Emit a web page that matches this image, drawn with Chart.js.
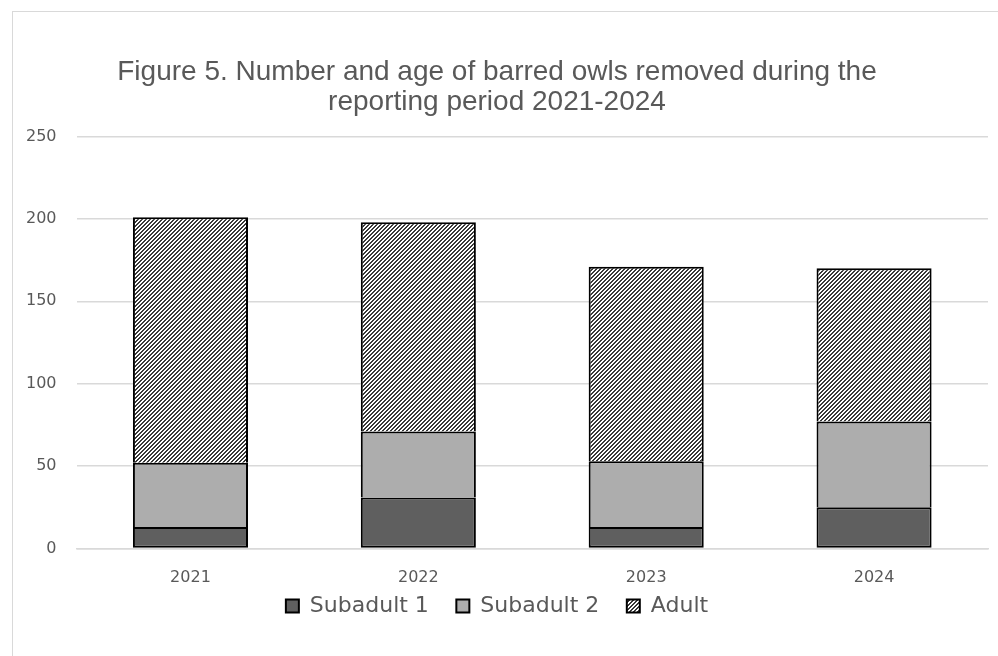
<!DOCTYPE html>
<html>
<head>
<meta charset="utf-8">
<title>Barred owls removed 2021-2024</title>
<script src="https://cdn.jsdelivr.net/npm/chart.js@4/dist/chart.umd.min.js"></script>
<style>
    html, body { margin: 0; padding: 0; background: #ffffff; }
    #wrap { position: relative; width: 998px; height: 656px; overflow: hidden; }
    #frame { position: absolute; left: 12px; top: 11px; width: 1100px; height: 800px; border: 1px solid #d9d9d9; }
    canvas { position: absolute; left: 0; top: 0; }
</style>
</head>
<body>
<div id="wrap">
    <div id="frame"></div>
    <canvas id="owl-chart" width="998" height="656"></canvas>
</div>
<script>
/* -------- DATA START -------- */
const years = ["2021", "2022", "2023", "2024"];
const subadult1 = [13, 31, 13, 25];
const subadult2 = [39, 40, 40, 52];
const adult = [149, 127, 118, 93];
const titleLines = ["Figure 5. Number and age of barred owls removed during the", "reporting period 2021-2024"];
/* -------- DATA END -------- */

const textGray = "#595959";
const gridGray = "#d9d9d9";

// Upward diagonal hatch used for the adult series
function makeHatch() {
    const tile = document.createElement("canvas");
    tile.width = 4;
    tile.height = 4;
    const tctx = tile.getContext("2d");
    tctx.fillStyle = "#ffffff";
    tctx.fillRect(0, 0, 4, 4);
    tctx.fillStyle = "#383838";
    for (let x = 0; x < 4; x++) {
        for (let y = 0; y < 4; y++) {
            if ((x + y) % 4 < 2) tctx.fillRect(x, y, 1, 1);
        }
    }
    return tctx.createPattern(tile, "repeat");
}

document.addEventListener("DOMContentLoaded", () => {
    const ctx = document.getElementById("owl-chart").getContext("2d");
    const hatch = makeHatch();

    const barStyle = {
        borderColor: "#000000",
        borderWidth: 2,
        barPercentage: 0.505,
        categoryPercentage: 1.0,
    };

    new Chart(ctx, {
        type: "bar",
        data: {
            labels: years,
            datasets: [
                // upper segments skip their bottom edge so joins stay one line thick
                Object.assign({ label: "Subadult 1", data: subadult1, backgroundColor: "#5f5f5f", borderSkipped: false }, barStyle),
                Object.assign({ label: "Subadult 2", data: subadult2, backgroundColor: "#adadad", borderSkipped: "bottom" }, barStyle),
                Object.assign({ label: "Adult", data: adult, backgroundColor: hatch, borderSkipped: "bottom" }, barStyle),
            ],
        },
        options: {
            responsive: false,
            animation: false,
            layout: { padding: { top: 57, left: 6, right: 10, bottom: 29 } },
            plugins: {
                title: {
                    display: true,
                    text: titleLines,
                    color: textGray,
                    font: { family: "'Liberation Sans', sans-serif", size: 28, weight: "normal", lineHeight: 1.08 },
                    padding: { top: 0, bottom: 19 },
                },
                legend: {
                    position: "bottom",
                    labels: {
                        color: textGray,
                        font: { family: "'DejaVu Sans', sans-serif", size: 22 },
                        boxWidth: 13,
                        boxHeight: 13,
                        padding: 6.5,
                        // wider gaps between entries without extra padding above the row
                        generateLabels(chart) {
                            const items = Chart.defaults.plugins.legend.labels.generateLabels(chart);
                            items.forEach((item, i) => {
                                if (i < items.length - 1) item.text += "   ";
                                item.lineWidth = 2;
                            });
                            return items;
                        },
                    },
                },
                tooltip: { enabled: false },
            },
            scales: {
                x: {
                    stacked: true,
                    grid: { display: false },
                    border: { display: true, color: gridGray, width: 1.5 },
                    ticks: { color: textGray, font: { family: "'DejaVu Sans', sans-serif", size: 16 }, padding: 11.5 },
                    afterFit(scale) { scale.height = 40; },
                },
                y: {
                    stacked: true,
                    min: 0,
                    max: 250,
                    ticks: { stepSize: 50, color: textGray, font: { family: "'DejaVu Sans', sans-serif", size: 16 }, padding: 20 },
                    grid: { color: gridGray, lineWidth: 1.5, drawTicks: false },
                    border: { display: false },
                },
            },
        },
    });
});
</script>
</body>
</html>
